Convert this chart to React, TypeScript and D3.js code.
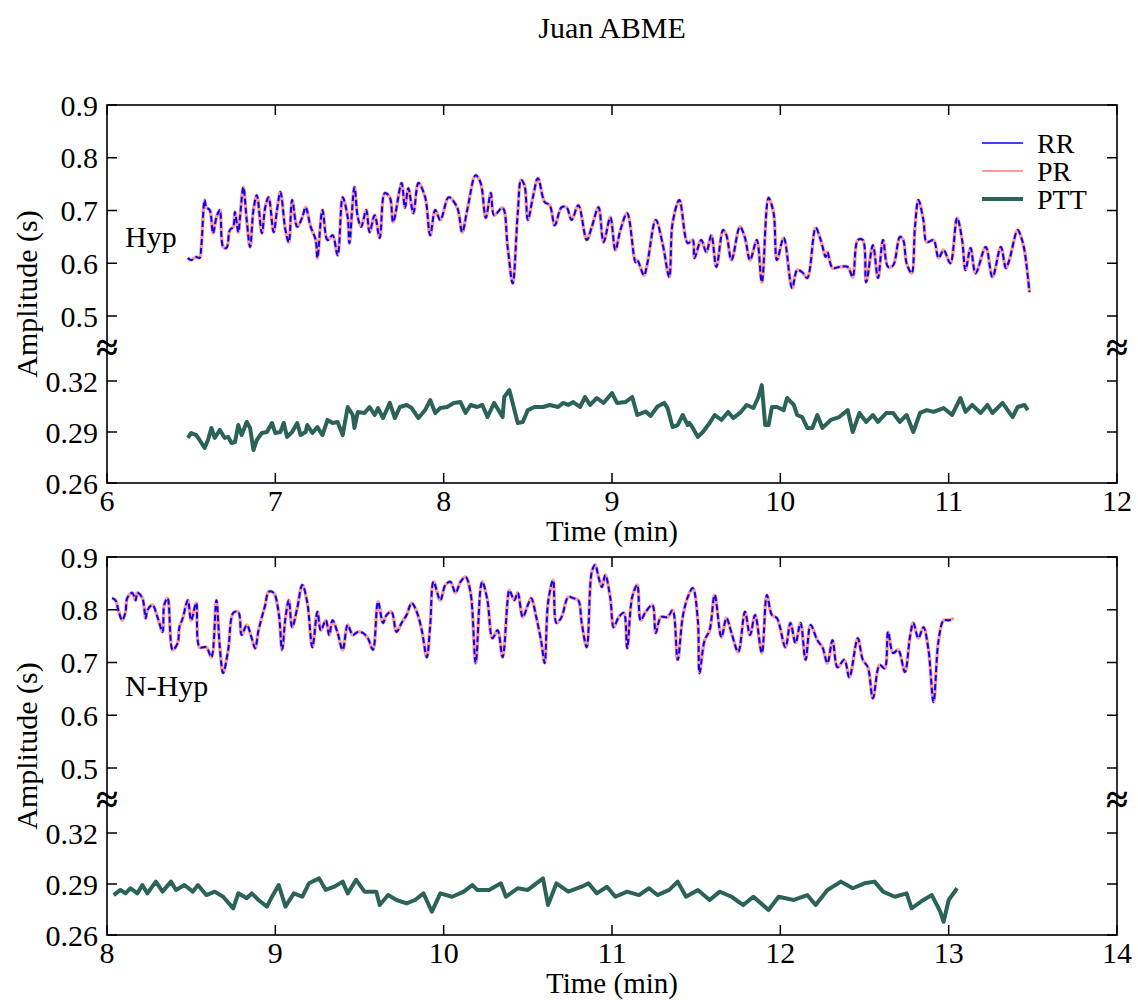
import * as d3 from 'd3';

type Pt = [number, number];

// legend / series names
const seriesNames = ['RR', 'PR', 'PTT'];
const panelLabels = ['Hyp', 'N-Hyp'];
const xDomains: [number, number][] = [[6, 12], [8, 14]];
const yTickValues = [0.9, 0.8, 0.7, 0.6, 0.5, 0.32, 0.29, 0.26];

// Hyp panel, RR interval (min, s)
const hypRR: Pt[] = [
  [6.48, 0.610], [6.50, 0.606], [6.53, 0.612], [6.55, 0.610], [6.56, 0.631], [6.58, 0.720], [6.59, 0.706],
  [6.61, 0.701], [6.63, 0.657], [6.65, 0.687], [6.67, 0.701], [6.69, 0.631], [6.71, 0.629], [6.73, 0.663],
  [6.75, 0.669], [6.76, 0.697], [6.78, 0.659], [6.79, 0.687], [6.81, 0.744], [6.83, 0.682], [6.85, 0.631],
  [6.87, 0.701], [6.89, 0.729], [6.92, 0.657], [6.94, 0.706], [6.96, 0.725], [6.99, 0.659], [7.01, 0.701],
  [7.03, 0.735], [7.06, 0.663], [7.08, 0.640], [7.10, 0.720], [7.13, 0.669], [7.16, 0.687], [7.18, 0.706],
  [7.21, 0.669], [7.24, 0.644], [7.25, 0.610], [7.28, 0.701], [7.31, 0.644], [7.34, 0.653], [7.37, 0.615],
  [7.40, 0.725], [7.43, 0.687], [7.44, 0.638], [7.47, 0.744], [7.49, 0.687], [7.51, 0.669], [7.54, 0.701],
  [7.56, 0.659], [7.59, 0.691], [7.62, 0.648], [7.65, 0.733], [7.68, 0.725], [7.70, 0.678], [7.75, 0.752],
  [7.77, 0.705], [7.79, 0.742], [7.82, 0.695], [7.85, 0.752], [7.89, 0.725], [7.92, 0.653], [7.95, 0.701],
  [7.98, 0.682], [8.03, 0.725], [8.08, 0.706], [8.11, 0.659], [8.14, 0.701], [8.19, 0.767], [8.22, 0.752],
  [8.25, 0.686], [8.28, 0.733], [8.30, 0.691], [8.35, 0.705], [8.38, 0.631], [8.41, 0.562], [8.44, 0.695],
  [8.46, 0.758], [8.48, 0.748], [8.50, 0.682], [8.53, 0.725], [8.56, 0.761], [8.60, 0.716], [8.63, 0.710],
  [8.66, 0.672], [8.70, 0.706], [8.73, 0.706], [8.76, 0.682], [8.80, 0.710], [8.85, 0.644], [8.88, 0.669],
  [8.92, 0.706], [8.95, 0.640], [8.99, 0.687], [9.02, 0.625], [9.05, 0.663], [9.09, 0.695], [9.14, 0.602],
  [9.15, 0.606], [9.19, 0.577], [9.21, 0.600], [9.26, 0.682], [9.30, 0.638], [9.34, 0.574], [9.36, 0.676],
  [9.40, 0.720], [9.45, 0.638], [9.48, 0.644], [9.49, 0.610], [9.53, 0.644], [9.56, 0.621], [9.59, 0.653],
  [9.62, 0.593], [9.66, 0.663], [9.68, 0.653], [9.71, 0.606], [9.76, 0.669], [9.79, 0.648], [9.82, 0.606],
  [9.86, 0.644], [9.89, 0.564], [9.93, 0.724], [9.96, 0.695], [9.98, 0.606], [10.02, 0.648], [10.07, 0.553],
  [10.10, 0.587], [10.13, 0.583], [10.16, 0.572], [10.21, 0.667], [10.24, 0.644], [10.27, 0.612], [10.28, 0.621],
  [10.31, 0.591], [10.35, 0.593], [10.40, 0.593], [10.43, 0.574], [10.46, 0.644], [10.49, 0.644], [10.51, 0.564],
  [10.55, 0.634], [10.58, 0.572], [10.61, 0.644], [10.64, 0.593], [10.67, 0.596], [10.71, 0.650], [10.73, 0.644],
  [10.75, 0.600], [10.78, 0.581], [10.80, 0.669], [10.82, 0.720], [10.85, 0.682], [10.87, 0.640], [10.91, 0.644],
  [10.94, 0.610], [10.97, 0.625], [11.01, 0.600], [11.05, 0.686], [11.08, 0.644], [11.10, 0.587], [11.13, 0.629],
  [11.16, 0.581], [11.22, 0.631], [11.26, 0.574], [11.31, 0.631], [11.34, 0.591], [11.36, 0.606], [11.41, 0.663],
  [11.43, 0.650], [11.45, 0.625], [11.48, 0.545],
];
// PR overlaps RR almost exactly in the picture
const hypPR: Pt[] = hypRR;

const hypPTT: Pt[] = [
  [6.48, 0.2865], [6.50, 0.2894], [6.53, 0.2882], [6.55, 0.2853], [6.58, 0.2806], [6.60, 0.2853], [6.62, 0.2924],
  [6.64, 0.2865], [6.67, 0.2912], [6.70, 0.2865], [6.72, 0.2871], [6.74, 0.2835], [6.76, 0.2841], [6.78, 0.2941],
  [6.80, 0.2882], [6.83, 0.2959], [6.85, 0.2924], [6.87, 0.2794], [6.89, 0.2853], [6.92, 0.2894], [6.95, 0.2900],
  [6.98, 0.2953], [7.00, 0.2894], [7.03, 0.2900], [7.05, 0.2953], [7.07, 0.2871], [7.10, 0.2900], [7.13, 0.2953],
  [7.15, 0.2882], [7.18, 0.2900], [7.19, 0.2941], [7.22, 0.2894], [7.25, 0.2929], [7.28, 0.2882], [7.31, 0.2971],
  [7.34, 0.2953], [7.37, 0.2959], [7.40, 0.2882], [7.43, 0.3047], [7.46, 0.3000], [7.47, 0.2924], [7.49, 0.3018],
  [7.53, 0.3012], [7.56, 0.3047], [7.59, 0.3000], [7.61, 0.3041], [7.64, 0.2982], [7.68, 0.3071], [7.71, 0.2982],
  [7.74, 0.3047], [7.78, 0.3059], [7.81, 0.3041], [7.85, 0.2982], [7.89, 0.3029], [7.92, 0.3088], [7.95, 0.3012],
  [7.98, 0.3041], [8.02, 0.3047], [8.06, 0.3071], [8.10, 0.3076], [8.13, 0.3012], [8.16, 0.3059], [8.20, 0.3047],
  [8.23, 0.3059], [8.26, 0.2988], [8.30, 0.3071], [8.35, 0.2988], [8.36, 0.3106], [8.39, 0.3147], [8.41, 0.3071],
  [8.44, 0.2953], [8.47, 0.2959], [8.50, 0.3029], [8.54, 0.3047], [8.59, 0.3047], [8.63, 0.3059], [8.68, 0.3047],
  [8.71, 0.3071], [8.74, 0.3059], [8.77, 0.3076], [8.81, 0.3047], [8.84, 0.3106], [8.87, 0.3059], [8.91, 0.3100],
  [8.95, 0.3071], [9.00, 0.3129], [9.03, 0.3071], [9.08, 0.3076], [9.12, 0.3106], [9.15, 0.3000], [9.20, 0.3020],
  [9.23, 0.2995], [9.27, 0.3050], [9.31, 0.3071], [9.33, 0.3041], [9.36, 0.2929], [9.39, 0.2941], [9.42, 0.3000],
  [9.45, 0.2941], [9.46, 0.2953], [9.48, 0.2924], [9.51, 0.2871], [9.54, 0.2900], [9.58, 0.2953], [9.61, 0.3000],
  [9.65, 0.2971], [9.69, 0.3018], [9.72, 0.2982], [9.76, 0.3012], [9.80, 0.3059], [9.84, 0.3041], [9.87, 0.3106],
  [9.89, 0.3176], [9.91, 0.2941], [9.93, 0.2941], [9.95, 0.3047], [9.98, 0.3047], [10.02, 0.3029], [10.04, 0.3100],
  [10.08, 0.3059], [10.10, 0.3000], [10.13, 0.2988], [10.16, 0.2924], [10.19, 0.2924], [10.22, 0.3000], [10.25, 0.2924],
  [10.30, 0.2971], [10.35, 0.2988], [10.40, 0.3029], [10.43, 0.2900], [10.47, 0.3012], [10.51, 0.2959], [10.55, 0.3000],
  [10.58, 0.2959], [10.63, 0.3012], [10.67, 0.3012], [10.71, 0.2959], [10.75, 0.3000], [10.79, 0.2900], [10.83, 0.3012],
  [10.87, 0.3029], [10.91, 0.3018], [10.97, 0.3041], [11.02, 0.3000], [11.07, 0.3100], [11.10, 0.3018], [11.14, 0.3059],
  [11.19, 0.3012], [11.23, 0.3059], [11.26, 0.3012], [11.32, 0.3071], [11.38, 0.2988], [11.41, 0.3047], [11.45, 0.3059],
  [11.47, 0.3029],
];

// N-Hyp panel
const nhypRR: Pt[] = [
  [8.03, 0.822], [8.05, 0.818], [8.07, 0.796], [8.09, 0.780], [8.11, 0.796], [8.12, 0.822], [8.15, 0.832],
  [8.17, 0.818], [8.18, 0.832], [8.21, 0.822], [8.23, 0.784], [8.24, 0.799], [8.27, 0.809], [8.30, 0.786],
  [8.33, 0.758], [8.34, 0.809], [8.36, 0.822], [8.39, 0.724], [8.42, 0.737], [8.43, 0.767], [8.45, 0.784],
  [8.48, 0.818], [8.50, 0.780], [8.53, 0.813], [8.55, 0.729], [8.59, 0.729], [8.62, 0.710], [8.65, 0.818],
  [8.67, 0.729], [8.69, 0.680], [8.72, 0.724], [8.75, 0.794], [8.78, 0.796], [8.80, 0.752], [8.83, 0.771],
  [8.86, 0.746], [8.88, 0.727], [8.90, 0.761], [8.92, 0.786], [8.94, 0.809], [8.96, 0.834], [8.99, 0.832],
  [9.02, 0.794], [9.04, 0.724], [9.06, 0.784], [9.08, 0.818], [9.10, 0.767], [9.13, 0.803], [9.16, 0.847],
  [9.19, 0.813], [9.22, 0.729], [9.25, 0.796], [9.27, 0.761], [9.30, 0.780], [9.32, 0.752], [9.34, 0.780],
  [9.37, 0.756], [9.40, 0.724], [9.43, 0.771], [9.46, 0.752], [9.49, 0.758], [9.52, 0.756], [9.55, 0.746],
  [9.58, 0.724], [9.61, 0.815], [9.64, 0.775], [9.66, 0.790], [9.69, 0.796], [9.72, 0.758], [9.75, 0.775],
  [9.78, 0.790], [9.81, 0.813], [9.84, 0.796], [9.87, 0.761], [9.90, 0.710], [9.92, 0.771], [9.94, 0.853],
  [9.98, 0.818], [10.01, 0.847], [10.04, 0.853], [10.07, 0.832], [10.10, 0.853], [10.13, 0.862], [10.16, 0.832],
  [10.19, 0.699], [10.22, 0.843], [10.23, 0.853], [10.26, 0.818], [10.29, 0.746], [10.32, 0.761], [10.35, 0.710],
  [10.38, 0.818], [10.39, 0.837], [10.42, 0.818], [10.44, 0.832], [10.47, 0.786], [10.50, 0.809], [10.52, 0.822],
  [10.55, 0.786], [10.58, 0.739], [10.60, 0.699], [10.62, 0.813], [10.65, 0.856], [10.67, 0.775], [10.70, 0.786],
  [10.74, 0.824], [10.77, 0.822], [10.80, 0.818], [10.82, 0.775], [10.85, 0.729], [10.88, 0.872], [10.90, 0.885],
  [10.92, 0.862], [10.94, 0.843], [10.96, 0.866], [10.99, 0.822], [11.01, 0.767], [11.04, 0.786], [11.07, 0.794],
  [11.09, 0.727], [11.12, 0.824], [11.15, 0.847], [11.17, 0.780], [11.20, 0.796], [11.24, 0.809], [11.26, 0.756],
  [11.29, 0.786], [11.33, 0.786], [11.36, 0.799], [11.39, 0.705], [11.42, 0.786], [11.45, 0.824], [11.48, 0.841],
  [11.51, 0.780], [11.52, 0.680], [11.55, 0.742], [11.58, 0.761], [11.61, 0.828], [11.65, 0.748], [11.68, 0.784],
  [11.71, 0.756], [11.75, 0.720], [11.79, 0.796], [11.82, 0.752], [11.85, 0.790], [11.89, 0.718], [11.92, 0.828],
  [11.95, 0.790], [11.98, 0.784], [12.03, 0.729], [12.06, 0.775], [12.09, 0.737], [12.12, 0.775], [12.15, 0.705],
  [12.18, 0.771], [12.22, 0.742], [12.25, 0.729], [12.28, 0.699], [12.31, 0.742], [12.34, 0.691], [12.38, 0.705],
  [12.41, 0.672], [12.46, 0.746], [12.49, 0.705], [12.52, 0.691], [12.55, 0.632], [12.59, 0.695], [12.62, 0.689],
  [12.64, 0.758], [12.67, 0.718], [12.70, 0.724], [12.74, 0.682], [12.77, 0.748], [12.79, 0.775], [12.82, 0.746],
  [12.85, 0.767], [12.88, 0.724], [12.91, 0.625], [12.94, 0.742], [12.97, 0.780], [13.00, 0.780], [13.03, 0.784],
];
const nhypPR: Pt[] = nhypRR;

const nhypPTT: Pt[] = [
  [8.04, 0.2835], [8.08, 0.2865], [8.11, 0.2845], [8.14, 0.2875], [8.18, 0.2845], [8.21, 0.2894], [8.24, 0.2845],
  [8.29, 0.2914], [8.33, 0.2855], [8.38, 0.2914], [8.41, 0.2865], [8.46, 0.2894], [8.51, 0.2855], [8.54, 0.2894],
  [8.59, 0.2835], [8.64, 0.2855], [8.69, 0.2825], [8.75, 0.2757], [8.78, 0.2845], [8.83, 0.2816], [8.86, 0.2845],
  [8.90, 0.2806], [8.95, 0.2767], [8.98, 0.2825], [9.02, 0.2894], [9.06, 0.2767], [9.11, 0.2845], [9.16, 0.2825],
  [9.20, 0.2904], [9.26, 0.2933], [9.30, 0.2865], [9.35, 0.2884], [9.40, 0.2914], [9.43, 0.2845], [9.48, 0.2924],
  [9.53, 0.2855], [9.60, 0.2855], [9.62, 0.2776], [9.67, 0.2835], [9.72, 0.2806], [9.78, 0.2786], [9.83, 0.2806],
  [9.88, 0.2845], [9.93, 0.2737], [9.98, 0.2845], [10.05, 0.2825], [10.12, 0.2855], [10.17, 0.2894], [10.20, 0.2865],
  [10.27, 0.2865], [10.34, 0.2904], [10.37, 0.2825], [10.44, 0.2875], [10.50, 0.2865], [10.59, 0.2933], [10.62, 0.2776],
  [10.67, 0.2904], [10.74, 0.2855], [10.82, 0.2884], [10.86, 0.2904], [10.91, 0.2845], [10.97, 0.2884], [11.02, 0.2825],
  [11.09, 0.2855], [11.16, 0.2835], [11.22, 0.2875], [11.27, 0.2835], [11.34, 0.2865], [11.39, 0.2914], [11.44, 0.2825],
  [11.51, 0.2865], [11.58, 0.2806], [11.64, 0.2855], [11.71, 0.2825], [11.78, 0.2776], [11.84, 0.2825], [11.93, 0.2747],
  [11.99, 0.2825], [12.08, 0.2806], [12.16, 0.2835], [12.21, 0.2776], [12.28, 0.2865], [12.36, 0.2914], [12.43, 0.2875],
  [12.50, 0.2904], [12.56, 0.2914], [12.61, 0.2855], [12.68, 0.2825], [12.75, 0.2845], [12.78, 0.2757], [12.85, 0.2806],
  [12.90, 0.2835], [12.95, 0.2737], [12.97, 0.2678], [13.00, 0.2806], [13.05, 0.2875],
];

const FONT = '"Liberation Serif", "Times New Roman", serif';
const COLORS = { RR: '#0000ff', PR: '#ff9a9a', PTT: '#2c6358' };
const W = 1138;
const H = 1000;
const left = 107;
const right = 1117;

const Panel = ({ top, xDomain, rr, pr, ptt, label, legend }: {
  top: number; xDomain: [number, number]; rr: Pt[]; pr: Pt[]; ptt: Pt[]; label: string; legend: boolean;
}) => {
  const bottom = top + 378;
  const x = d3.scaleLinear().domain(xDomain).range([left, right]);
  // broken axis: 0.26-0.32 below the break, 0.5-0.9 above it
  const y = d3.scaleLinear()
    .domain([0.26, 0.32, 0.5, 0.9])
    .range([bottom, bottom - 102, top + 211, top]);
  const smooth = d3.line<Pt>().x((d) => x(d[0])).y((d) => y(d[1])).curve(d3.curveCatmullRom.alpha(0.5));
  const jagged = d3.line<Pt>().x((d) => x(d[0])).y((d) => y(d[1]));
  const xTicks = d3.range(xDomain[0], xDomain[1] + 1);
  const breakY = top + 244;
  const tl = 10;

  return (
    <g>
      <path d={smooth(pr) ?? ''} fill="none" stroke={COLORS.PR} strokeWidth={3.5} />
      <path d={smooth(rr) ?? ''} fill="none" stroke={COLORS.RR} strokeWidth={2} strokeDasharray="6,3" />
      <path d={jagged(ptt) ?? ''} fill="none" stroke={COLORS.PTT} strokeWidth={4} strokeLinejoin="round" />

      <rect x={left} y={top} width={right - left} height={bottom - top} fill="none" stroke="#000" strokeWidth={1.6} />
      {yTickValues.map((v) => (
        <g key={v}>
          <line x1={left} x2={left + tl} y1={y(v)} y2={y(v)} stroke="#000" strokeWidth={1.5} />
          <line x1={right} x2={right - tl} y1={y(v)} y2={y(v)} stroke="#000" strokeWidth={1.5} />
          <text x={98} y={y(v)} dy="0.35em" textAnchor="end" fontSize={30} fontFamily={FONT}>{String(v)}</text>
        </g>
      ))}
      {xTicks.map((t) => (
        <g key={t}>
          <line x1={x(t)} x2={x(t)} y1={bottom} y2={bottom - tl} stroke="#000" strokeWidth={1.5} />
          <line x1={x(t)} x2={x(t)} y1={top} y2={top + tl} stroke="#000" strokeWidth={1.5} />
          <text x={x(t)} y={bottom + 28} textAnchor="middle" fontSize={30} fontFamily={FONT}>{t}</text>
        </g>
      ))}
      {[left, right].map((bx) => (
        <text key={bx} x={bx} y={breakY} dy="0.3em" textAnchor="middle" fontSize={40} fontWeight="bold" fontFamily={FONT}>≈</text>
      ))}
      <text x={612} y={bottom + 58} textAnchor="middle" fontSize={29} fontFamily={FONT}>Time (min)</text>
      <text transform={`translate(37,${top + 189}) rotate(-90)`} textAnchor="middle" fontSize={30} fontFamily={FONT}>Amplitude (s)</text>
      <text x={125} y={top + (label === 'Hyp' ? 142 : 139)} fontSize={30} fontFamily={FONT}>{label}</text>

      {legend && seriesNames.map((name, i) => {
        const ly = top + 38 + i * 28;
        const c = COLORS[name as keyof typeof COLORS];
        return (
          <g key={name}>
            <line x1={982} x2={1023} y1={ly} y2={ly} stroke={c} strokeWidth={name === 'PTT' ? 4 : name === 'PR' ? 2 : 1.5} />
            <text x={1037} y={ly} dy="0.35em" fontSize={28} fontFamily={FONT}>{name}</text>
          </g>
        );
      })}
    </g>
  );
};

export default function App() {
  return (
    <svg width={W} height={H} viewBox={`0 0 ${W} ${H}`} style={{ position: 'absolute', left: 0, top: 0, background: '#fff' }}>
      <rect width={W} height={H} fill="#fff" />
      <text x={612} y={38} textAnchor="middle" fontSize={30} fontFamily={FONT}>Juan ABME</text>
      <Panel top={105} xDomain={xDomains[0]} rr={hypRR} pr={hypPR} ptt={hypPTT} label={panelLabels[0]} legend />
      <Panel top={557} xDomain={xDomains[1]} rr={nhypRR} pr={nhypPR} ptt={nhypPTT} label={panelLabels[1]} legend={false} />
    </svg>
  );
}
